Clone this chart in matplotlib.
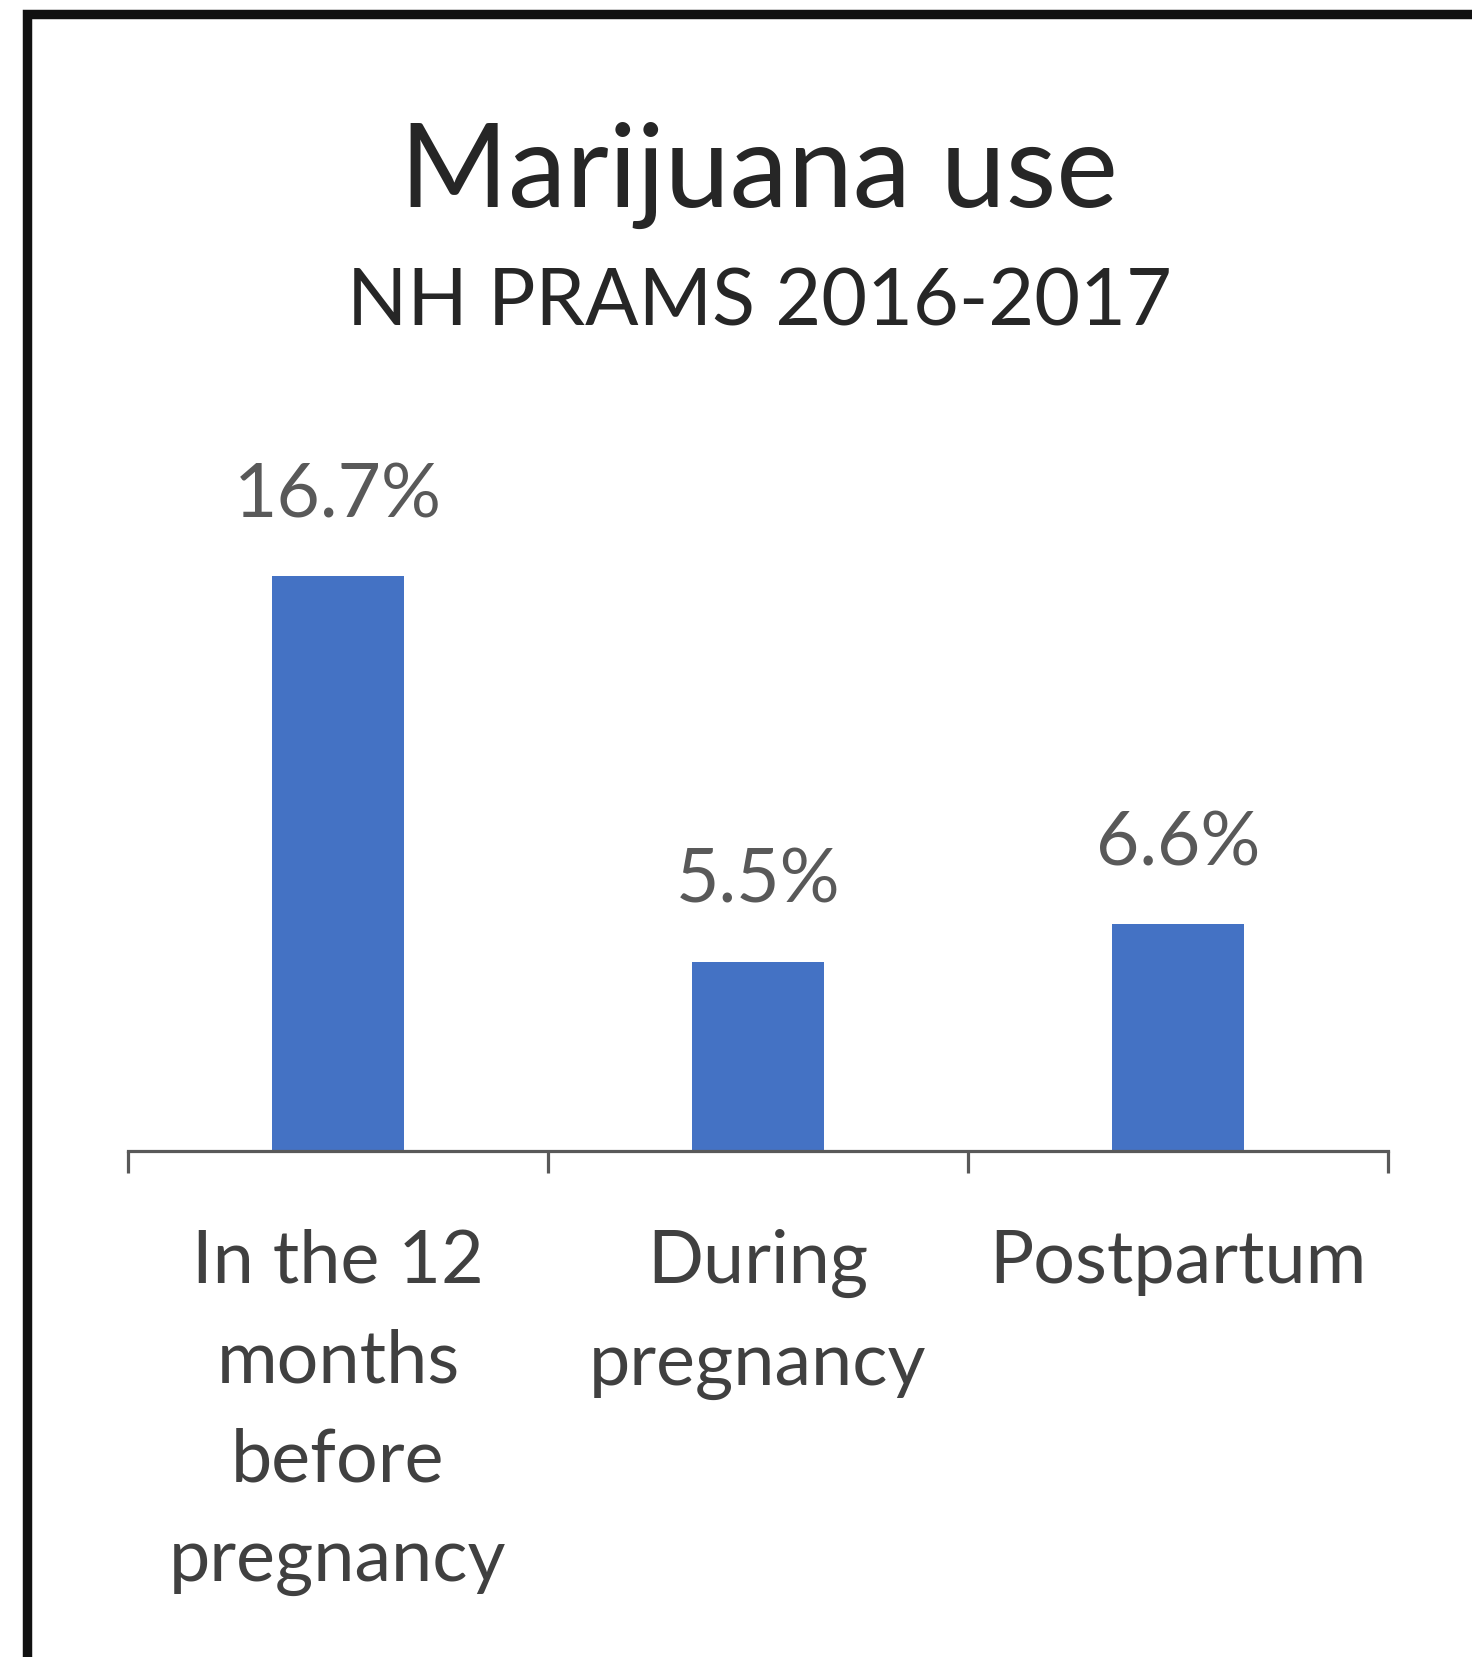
import matplotlib
matplotlib.use("Agg")
import matplotlib.pyplot as plt
from matplotlib.patches import Rectangle
from matplotlib.transforms import blended_transform_factory, offset_copy

categories = ["In the 12\nmonths\nbefore\npregnancy", "During\npregnancy", "Postpartum"]
values = [16.7, 5.5, 6.6]
value_labels = ["16.7%", "5.5%", "6.6%"]
title = "Marijuana use"
subtitle = "NH PRAMS 2016-2017"

W, H, DPI = 1472, 1658, 100
plt.rcParams["font.family"] = ["Lato", "DejaVu Sans"]

fig = plt.figure(figsize=(W / DPI, H / DPI), dpi=DPI)
fig.patch.set_facecolor("white")

# outer frame (runs off the right and bottom edges)
fig.patches.append(Rectangle((27 / W, -0.05), 1.2, 1 - 15 / H + 0.05,
                             transform=fig.transFigure, fill=False,
                             edgecolor="#111111", linewidth=6.8, zorder=0))

# plot area
ax_left, ax_right = 128, 1388
ax_base = 1152
px_per_unit = 34.43
ymax = 18.0
ax_h = ymax * px_per_unit
ax = fig.add_axes([ax_left / W, 1 - ax_base / H, (ax_right - ax_left) / W, ax_h / H])
ax.set_xlim(-0.5, 2.5)
ax.set_ylim(0, ymax)
ax.patch.set_alpha(0)

x = list(range(len(values)))
ax.bar(x, values, width=0.315, color="#4472C4", zorder=2)

for s in ["left", "right", "top"]:
    ax.spines[s].set_visible(False)
ax.spines["bottom"].set_color("#595959")
ax.spines["bottom"].set_linewidth(2.3)
ax.set_yticks([])
ax.set_xticks([])
ax.set_xticks([-0.5, 0.5, 1.5, 2.5], minor=True)
ax.tick_params(axis="x", which="minor", length=16, width=2.3, color="#595959",
               labelbottom=False)

# value labels above bars
lab_tr = offset_copy(ax.transData, fig=fig, x=0, y=43, units="points")
for xi, v, lab in zip(x, values, value_labels):
    ax.text(xi, v, lab, transform=lab_tr, ha="center", va="baseline",
            fontsize=54, color="#595959")

# category labels under the axis
cat_tr = blended_transform_factory(ax.transData, fig.transFigure)
for xi, cat in zip(x, categories):
    ax.text(xi, 1 - 1229 / H, cat, transform=cat_tr, ha="center", va="top",
            fontsize=53, color="#404040", linespacing=1.6)

fig.text(759 / W, 1 - 207 / H, title, ha="center", va="baseline",
         fontsize=84, color="#262626")
fig.text(759 / W, 1 - 325 / H, subtitle, ha="center", va="baseline",
         fontsize=57, color="#262626")

fig.savefig("out.png", dpi=DPI, facecolor="white")
